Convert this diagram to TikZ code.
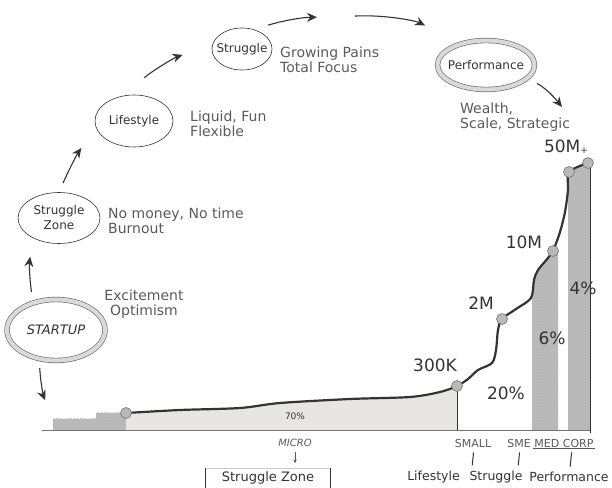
\documentclass[tikz,border=0pt]{standalone}
\usepackage{fontspec}
\setmainfont{DejaVu Sans}
\usetikzlibrary{shapes.geometric, arrows.meta, patterns}
\definecolor{sketchink}{HTML}{333333}
\definecolor{sketchtext}{HTML}{5A5A5A}
\definecolor{sketchfill}{HTML}{E7E5E1}
\definecolor{sketchbar}{HTML}{BDBDBD}

\begin{document}
\begin{tikzpicture}[x=1pt, y=1pt,
        phase/.style={ellipse, draw=sketchink, line width=0.6pt, inner sep=0pt, fill=white, text=sketchink, align=center, font=\fontsize{12}{15}\selectfont},
        ring/.style={phase, draw=black!55, double=gray!30, double distance=4pt, line width=0.7pt},
        note/.style={anchor=west, inner sep=0pt, align=left, text=sketchtext, font=\fontsize{14}{15}\selectfont},
        value/.style={text=sketchink, font=\fontsize{17}{17}\selectfont},
        tag/.style={text=sketchtext, inner sep=1pt, font=\fontsize{11}{11}\selectfont},
        stage/.style={text=sketchink, font=\fontsize{12.5}{13}\selectfont},
        arr/.style={-{Stealth[length=10pt, width=9pt]}, line width=1.1pt, draw=sketchink},
        smallarr/.style={-{Stealth[length=4pt, width=3.5pt]}, line width=0.6pt, draw=sketchtext},
        tickline/.style={draw=sketchink, line width=1pt, shorten <=4pt, shorten >=2pt},
        hatch/.style={fill=sketchbar, postaction={pattern=north east lines, pattern color=gray!60}},
        curve/.style={draw=sketchink, line width=2.2pt, line join=round},
        dot/.style={circle, fill=gray!55, draw=black!55, line width=0.6pt, minimum size=11pt, inner sep=0pt}]
      \useasboundingbox (0,0) rectangle (612,-487);

      % Phases
      \node[ring, minimum width=98, minimum height=61, font=\itshape\fontsize{13}{14}\selectfont] (startup) at (56,-330) {STARTUP};
      \node[phase, minimum width=82, minimum height=51] (zone) at (59,-218) {Struggle\\Zone};
      \node[phase, minimum width=78, minimum height=52] (life) at (134,-121) {Lifestyle};
      \node[phase, minimum width=60, minimum height=42, inner xsep=-6pt] (strug) at (242,-49) {Struggle};
      \node[ring, minimum width=97, minimum height=49, inner xsep=-6pt] (perf) at (486,-65) {Performance};

      \node[note, align=center, anchor=center] (excite) at (144,-304.5) {Excitement\\Optimism};
      \node[note] (zonenote) at (108,-220.5) {No money, No time\\Burnout};
      \node[note] (lifenote) at (190,-123.5) {Liquid, Fun\\Flexible};
      \node[note] (strugnote) at (280,-60) {Growing Pains\\Total Focus};
      \node[note] (perfnote) at (460,-117.5) {Wealth,\\Scale, Strategic};

      % Chart
      \coordinate (base) at (0,-430);
      \coordinate (c0) at (126,-413);
      \coordinate (c1) at (457,-386);
      \coordinate (c2) at (502,-319);
      \coordinate (c3) at (553,-251);
      \coordinate (c4) at (569,-172);
      \coordinate (c5) at (588,-163);

      \node[hatch, anchor=south west, minimum width=44, minimum height=11, inner sep=0pt] (step1) at (53,-430) {};
      \node[hatch, anchor=south west, minimum width=30, minimum height=17, inner sep=0pt] (step2) at (96,-430) {};
      \fill[sketchfill, postaction={pattern=north east lines, pattern color=gray!18}] (c0 |- base) -- plot[smooth, tension=0.5] coordinates {(c0) (180,-410) (240,-408) (280,-403) (350,-399) (410,-397) (440,-392) (c1)} -- (c1 |- base) -- cycle;
      \fill[hatch] (532,-430) -- (532,-290) -- plot[smooth, tension=0.5] coordinates {(534,-280) (538,-270) (548,-258) (c3)} -- (558,-251) -- (558,-430) -- cycle;
      \fill[hatch] (568,-430) -- (568,-178) -- (c4) -- (c5) -- (590,-163) -- (590,-430) -- cycle;

      \draw[black!55, line width=0.8pt] (42,-430) -- (591,-430);
      \draw[sketchink, line width=0.7pt] (c1) -- (c1 |- base);
      \draw[sketchink, line width=1pt] (590,-163) -- (590,-433);

      \draw[curve] plot[smooth, tension=0.5] coordinates {(c0) (180,-410) (240,-408) (280,-403) (350,-399) (410,-397) (440,-392) (c1) (468,-379) (478,-370) (492,-363) (496,-350) (498,-330) (c2) (516,-309) (531,-298) (534,-280) (538,-270) (548,-258) (c3) (560,-232) (565,-212) (568,-190) (c4) (c5)};
      \foreach \p in {c0,c1,c2,c3,c4,c5}
        \node[dot] (dot\p) at (\p) {};

      \node[text=sketchink, font=\fontsize{9}{9}\selectfont] (v70) at (295,-416) {70\%};
      \node[value] (v300k) at (435,-365) {300K};
      \node[value] (v2m) at (481,-303) {2M};
      \node[value] (v20) at (506,-393) {20\%};
      \node[value] (v6) at (552,-338) {6\%};
      \node[value] (v4) at (583,-288) {4\%};
      \node[value] (v10m) at (524,-242) {10M};
      \node[value] (v50m) at (566,-147) {50M\raisebox{-1pt}{\fontsize{9}{9}\selectfont +}};

      % Flow
      \coordinate (apex) at (336,-17);
      \coordinate (perfend) at (562,-107);
      \draw[arr, shorten <=11pt, shorten >=19pt, bend left=8] (startup.130) to (zone.217);
      \draw[arr, shorten <=9pt, shorten >=20pt, bend right=10] (startup.240) to (step1.north west);
      \draw[arr, shorten <=10pt, shorten >=25pt, bend left=6] (zone.north) to (life.190);
      \draw[arr, shorten <=28pt, shorten >=32pt, bend left=10] (life.114) to (strug.170);
      \draw[arr, shorten <=15pt, shorten >=19pt, bend left=8] (strug.59) to (apex);
      \draw[arr, shorten <=19pt, shorten >=40pt, bend left=15] (apex) to (perf.140);
      \draw[arr, shorten <=11pt, bend left=12] (perf.-18) to (perfend);

      % Sizes
      \node[tag, font=\itshape\fontsize{10}{10}\selectfont] (micro) at (295,-443) {MICRO};
      \node[stage, minimum width=124, minimum height=19, inner sep=0pt, font=\fontsize{13}{13}\selectfont] (szone) at (268,-478) {Struggle Zone};
      \draw[smallarr, shorten <=4pt, shorten >=5pt] (micro.south) -- (micro.south |- szone.north);
      \draw[sketchink, line width=0.7pt] (szone.south west) -- (szone.north west);
      \draw[sketchink, line width=0.7pt] (szone.south east) -- (szone.north east);
      \draw[gray!40, line width=0.6pt] (szone.north west) -- (szone.north east);

      \node[tag] (szsmall) at (473,-443) {SMALL};
      \node[tag] (szsme) at (519,-443) {SME};
      \node[tag] (szmed) at (564,-443) {MED CORP};
      \draw[sketchtext, line width=0.6pt] (szmed.south west) -- (szmed.south east);
      \node[stage] (lblife) at (433.5,-477) {Lifestyle};
      \node[stage] (lbstrug) at (496,-477) {Struggle};
      \node[stage] (lbperf) at (569,-477) {Performance};
      \draw[tickline] ([xshift=1pt]szsmall.south) -- ([xshift=-1pt]szsmall.south |- lblife.north);
      \draw[tickline] ([xshift=1pt]szsme.south) -- ([xshift=-1pt]szsme.south |- lbstrug.north);
      \draw[tickline] ([xshift=8pt]szmed.south) -- ([xshift=6pt]szmed.south |- lbperf.north);
    \end{tikzpicture}
\end{document}
